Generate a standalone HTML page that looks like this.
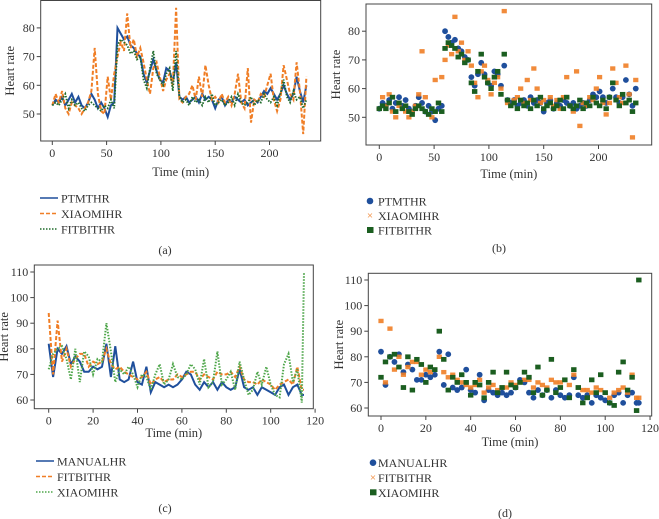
<!DOCTYPE html>
<html><head><meta charset="utf-8">
<style>
html,body{margin:0;padding:0;background:#fff;}
svg{display:block;}
svg text{font-family:"Liberation Serif","DejaVu Serif","Times New Roman",serif;}
</style></head>
<body>
<svg id="fig" width="659" height="519" viewBox="0 0 659 519" xmlns="http://www.w3.org/2000/svg"></svg>
<script>
// Panel (a)/(b) data: one value every 3 min
const ptmtA = [53,55,54,56,53,55,57,54,56,53,52,54,57,55,52,54,52,49,53,54,80,78,76,77,74,73,71,70,64,61,65,69,65,62,61,66,65,61,68,56,55,56,54,55,56,54,57,55,56,55,52,55,56,53,55,54,56,55,54,55,53,54,55,54,56,58,57,59,57,55,57,60,57,55,57,63,58,54,60];
const xiaomiA = [53,57,54,58,52,50,54,53,52,50,52,54,58,73,57,51,50,63,55,64,70,75,72,85,73,76,70,73,68,62,57,66,68,63,58,62,64,60,87,55,54,56,57,60,55,63,56,67,60,55,56,54,57,54,56,53,57,64,54,52,66,47,55,54,57,56,60,64,55,51,55,67,62,57,55,68,58,43,63];
const fitbitA = [53,54,53,55,57,52,55,53,54,52,51,53,54,53,52,51,53,52,55,52,74,76,75,74,71,72,69,70,62,59,66,72,64,62,60,64,66,58,72,56,54,55,53,56,54,55,53,56,54,57,53,54,55,53,54,56,53,57,54,53,54,56,53,55,54,57,55,54,56,53,57,62,56,54,58,55,56,52,55];
const stepA = 3;
// Panel (c)/(d) data
const timesC = [0,2,4,6,8,10,12,14,16,18,20,22,24,26,28,30,32,34,36,38,40,42,44,46,48,50,52,54,56,58,60,62,64,66,68,70,72,74,76,78,80,82,84,86,88,90,92,94,96,98,100,102,104,106,108,110,112,114,115];
const manualC = [82,69,80,78,81,74,77,75,71,71,73,72,73,82,69,81,68,67,68,75,67,66,73,63,67,66,65,66,65,66,68,71,70,66,64,67,65,67,64,67,65,64,65,72,65,64,65,62,65,64,63,62,65,66,62,65,66,62,62];
const fitbitC = [94,70,91,75,80,73,76,78,78,73,75,74,75,80,74,72,73,71,70,69,68,69,71,66,68,69,67,68,68,70,69,70,71,71,68,70,69,68,71,70,70,71,69,73,68,67,67,66,68,67,66,64,66,67,68,66,73,64,64];
const xiaomiC = [72,78,80,81,76,68,80,67,79,77,70,76,75,90,79,67,72,70,73,70,65,70,69,64,70,74,66,68,74,69,68,70,74,72,66,76,65,67,79,66,68,71,64,75,68,62,64,71,66,73,66,62,61,74,78,67,72,59,110];
// Ticks
const xTicksA = [0,50,100,150,200];
const yTicksA = [50,60,70,80];
const xTicksC = [0,20,40,60,80,100,120];
const yTicksC = [60,70,80,90,100,110];
const timesA = ptmtA.map((_, i) => i * stepA);

const NS = "http://www.w3.org/2000/svg";
const svg = document.getElementById('fig');
const FF = '"Liberation Serif","DejaVu Serif",serif';
function mk(tag, attrs, parent) {
  const e = document.createElementNS(NS, tag);
  for (const k in attrs) e.setAttribute(k, attrs[k]);
  if (tag === 'text') e.setAttribute('font-family', FF);
  (parent || svg).appendChild(e);
  return e;
}
const BLUE = '#1f4f9c', ORANGE = '#f07e26', GREEN_A = '#1f6b2a', GREEN_C = '#4ea64a', GREEN_S = '#1b5e20';

function panel(cfg) {
  const g = mk('g', {});
  
  
  const sx = t => cfg.x0 + (t - cfg.t0) * cfg.kx;
  const sy = v => cfg.y0 - (v - cfg.v0) * cfg.ky;
  const frame = mk('rect', {x: cfg.L, y: cfg.T, width: cfg.R - cfg.L, height: cfg.B - cfg.T, fill: 'none', stroke: '#444', 'stroke-width': 1}, g);
  
  
  cfg.xt.forEach(t => {
    const X = sx(t);
    mk('line', {x1: X, x2: X, y1: cfg.B, y2: cfg.B + 4, stroke: '#444'}, g);
    const tx = mk('text', {x: X, y: cfg.B + 16, 'text-anchor': 'middle', 'font-size': 12, fill: '#333'}, g);
    tx.textContent = t;
    
    
  });
  cfg.yt.forEach(v => {
    const Y = sy(v);
    mk('line', {x1: cfg.L - 4, x2: cfg.L, y1: Y, y2: Y, stroke: '#444'}, g);
    const tx = mk('text', {x: cfg.L - 6, y: Y + 4, 'text-anchor': 'end', 'font-size': 12, fill: '#333'}, g);
    tx.textContent = v;
    
    
  });
  const xl = mk('text', {x: (cfg.L + cfg.R) / 2, y: cfg.xlY, 'text-anchor': 'middle', 'font-size': 12.5, fill: '#333'}, g);
  xl.textContent = 'Time (min)';
  
  
  const yl = mk('text', {transform: `translate(${cfg.ylX},${(cfg.T + cfg.B) / 2}) rotate(-90)`, 'text-anchor': 'middle', 'font-size': 12.5, fill: '#333'}, g);
  yl.textContent = 'Heart rate';
  
  

  cfg.series.forEach((s, si) => {
    const sg = mk('g', {}, g);
    
    
    if (cfg.kind === 'line') {
      const pts = s.vals.map((v, i) => sx(s.t[i]).toFixed(1) + ',' + sy(v).toFixed(1)).join(' ');
      const pl = mk('polyline', {points: pts, fill: 'none', stroke: s.color, 'stroke-width': s.w || 1.6, 'stroke-dasharray': s.dash || 'none'}, sg);
      
      
    } else {
      s.vals.forEach((v, i) => {
        const X = sx(s.t[i]), Y = sy(v);
        let m;
        if (s.marker === 'o') m = mk('circle', {cx: X, cy: Y, r: 2.9, fill: s.color}, sg);
        else if (s.marker === 's') m = mk('rect', {x: X - 2.7, y: Y - 2.4, width: 5.4, height: 4.8, fill: s.color}, sg);
        else m = mk('rect', {x: X - 2.6, y: Y - 2.2, width: 5.2, height: 4.4, fill: s.color, opacity: 0.9}, sg);
        
        
      });
    }
    // legend
    const LY = cfg.legY + si * cfg.legDy;
    const lg = mk('g', {}, g);
    
    
    if (cfg.kind === 'line') {
      mk('line', {x1: cfg.legX, x2: cfg.legX + 18, y1: LY, y2: LY, stroke: s.color, 'stroke-width': 1.6, 'stroke-dasharray': s.dash || 'none'}, lg);
    } else {
      if (s.marker === 'o') mk('circle', {cx: cfg.legX + 3, cy: LY, r: 3.3, fill: s.color}, lg);
      else if (s.marker === 's') mk('rect', {x: cfg.legX, y: LY - 3, width: 6.5, height: 6, fill: s.color}, lg);
      else { const t = mk('text', {x: cfg.legX + 3, y: LY + 3.5, 'text-anchor': 'middle', 'font-size': 11, fill: s.color}, lg); t.textContent = '×'; }
    }
    const lt = mk('text', {x: cfg.legTX, y: LY + 4.5, 'font-size': 12, fill: '#333'}, lg);
    lt.textContent = s.label;
  });
  const cap = mk('text', {x: cfg.capX, y: cfg.capY, 'text-anchor': 'middle', 'font-size': 12, fill: '#333'}, g);
  cap.textContent = cfg.cap;
  
  
}

panel({name: 'panel-a', kind: 'line', L: 40.7, R: 320.7, T: 0.5, B: 141, x0: 52.3, t0: 0, kx: 54.3 / 50, y0: 114, v0: 50, ky: 2.87,
  xt: xTicksA, yt: yTicksA, xlY: 176, ylX: 14, legX: 40, legTX: 61, legY: 198, legDy: 15.5, capX: 165, capY: 254, cap: '(a)',
  series: [
    {label: 'PTMTHR', t: timesA, vals: ptmtA, color: BLUE, w: 2},
    {label: 'XIAOMIHR', t: timesA, vals: xiaomiA, color: ORANGE, dash: '4,2', w: 2},
    {label: 'FITBITHR', t: timesA, vals: fitbitA, color: GREEN_A, dash: '1.5,1.5', w: 1.8}
  ]});
panel({name: 'panel-b', kind: 'scatter', L: 366, R: 651.7, T: 4, B: 145, x0: 379.3, t0: 0, kx: 1.096, y0: 117.3, v0: 50, ky: 2.87,
  xt: xTicksA, yt: yTicksA, xlY: 178, ylX: 340, legX: 367, legTX: 378, legY: 201, legDy: 14.5, capX: 499, capY: 252, cap: '(b)',
  series: [
    {label: 'PTMTHR', t: timesA, vals: ptmtA, color: BLUE, marker: 'o'},
    {label: 'XIAOMIHR', t: timesA, vals: xiaomiA, color: ORANGE, marker: 'x'},
    {label: 'FITBITHR', t: timesA, vals: fitbitA, color: GREEN_S, marker: 's'}
  ]});
panel({name: 'panel-c', kind: 'line', L: 34.3, R: 313.3, T: 265, B: 408.7, x0: 48.7, t0: 0, kx: 2.22, y0: 400, v0: 60, ky: 2.56,
  xt: xTicksC, yt: yTicksC, xlY: 437, ylX: 8, legX: 36, legTX: 57, legY: 461, legDy: 15.5, capX: 165, capY: 512, cap: '(c)',
  series: [
    {label: 'MANUALHR', t: timesC, vals: manualC, color: BLUE, w: 2},
    {label: 'FITBITHR', t: timesC, vals: fitbitC, color: ORANGE, dash: '4,2', w: 2},
    {label: 'XIAOMIHR', t: timesC, vals: xiaomiC, color: GREEN_C, dash: '1.5,1.5', w: 2}
  ]});
panel({name: 'panel-d', kind: 'scatter', L: 368.3, R: 651.7, T: 273.3, B: 416, x0: 381, t0: 0, kx: 2.242, y0: 408, v0: 60, ky: 2.56,
  xt: xTicksC, yt: yTicksC, xlY: 446, ylX: 343, legX: 370, legTX: 378, legY: 462.7, legDy: 14.8, capX: 505, capY: 517, cap: '(d)',
  series: [
    {label: 'MANUALHR', t: timesC, vals: manualC, color: BLUE, marker: 'o'},
    {label: 'FITBITHR', t: timesC, vals: fitbitC, color: ORANGE, marker: 'x'},
    {label: 'XIAOMIHR', t: timesC, vals: xiaomiC, color: GREEN_S, marker: 's'}
  ]});
</script>
</body></html>
